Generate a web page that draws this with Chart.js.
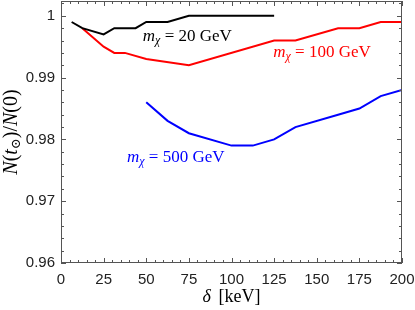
<!DOCTYPE html>
<html><head><meta charset="utf-8">
<script src="https://cdn.jsdelivr.net/npm/chart.js@4/dist/chart.umd.min.js"></script>
<style>html,body{margin:0;padding:0;background:#fff}#wrap{width:415px;height:310px}</style>
</head><body><div id="wrap"><canvas id="c" width="415" height="310"></canvas></div>
<script>
// delta [keV] and N(t_sun)/N(0) for each dark matter mass
const x20  = [6.25, 12.5, 25, 31.25, 43.75, 50, 62.5, 75, 125];
const y20  = [0.999, 0.998, 0.997, 0.998, 0.998, 0.999, 0.999, 1.000, 1.000];
const x100 = [12.5, 25, 31.25, 37.5, 50, 75, 125, 137.5, 162.5, 175, 187.5, 200];
const y100 = [0.998, 0.995, 0.994, 0.994, 0.993, 0.992, 0.996, 0.996, 0.998, 0.998, 0.999, 0.999];
const x500 = [50, 62.5, 75, 100, 112.5, 125, 137.5, 162.5, 175, 187.5, 200];
const y500 = [0.986, 0.983, 0.981, 0.979, 0.979, 0.980, 0.982, 0.984, 0.985, 0.987, 0.988];
const xTicks = [0, 25, 50, 75, 100, 125, 150, 175, 200];
const yTicks = [0.96, 0.97, 0.98, 0.99, 1];
const yTickLabels = ["0.96", "0.97", "0.98", "0.99", "1"];
const massLabels = ["20", "100", "500"];

const pts = (xs, ys) => xs.map((v, i) => ({x: v, y: ys[i]}));
const colors = ["#000000", "#ff0000", "#0000ff"];
// label anchors in data coordinates
const labelAnchors = [[48, 0.9959], [124.5, 0.99328], [38.7, 0.97641]];

const FRAME = "#555";
const serif = "'Liberation Serif', 'DejaVu Serif', serif";

function drawRich(ctx, segs, x, y, align) {
  let total = 0;
  segs.forEach(s => { ctx.font = s.f; s.w = ctx.measureText(s.t).width + (s.gap || 0); total += s.w; });
  let cx = align === 'center' ? x - total / 2 : x;
  ctx.textBaseline = 'alphabetic';
  ctx.textAlign = 'left';
  segs.forEach(s => { ctx.font = s.f; ctx.fillText(s.t, cx, y + (s.dy || 0)); cx += s.w; });
}

const deco = {
  id: 'deco',
  afterDatasetsDraw(chart) {
    const ctx = chart.ctx, a = chart.chartArea, xs = chart.scales.x, ys = chart.scales.y;
    ctx.save();
    // frame
    ctx.strokeStyle = FRAME; ctx.lineWidth = 1;
    ctx.strokeRect(a.left + 0.5, a.top + 0.5, a.right - a.left - 1, a.bottom - a.top - 1);
    // inward ticks
    ctx.beginPath();
    for (let v = 0; v <= 200.001; v += 5) {
      const px = Math.round(xs.getPixelForValue(v)) + 0.5;
      const L = (Math.abs(v % 25) < 1e-6) ? 5 : 3;
      ctx.moveTo(px, a.bottom); ctx.lineTo(px, a.bottom - L);
      ctx.moveTo(px, a.top); ctx.lineTo(px, a.top + L);
    }
    for (let k = 0; k <= 21; k++) {
      const v = 0.96 + k * 0.002;
      if (v > ys.max) break;
      const py = Math.round(ys.getPixelForValue(v)) + 0.5;
      const L = (k % 5 === 0) ? 5 : 3;
      ctx.moveTo(a.left, py); ctx.lineTo(a.left + L, py);
      ctx.moveTo(a.right, py); ctx.lineTo(a.right - L, py);
    }
    ctx.stroke();
    // series labels
    massLabels.forEach((m, i) => {
      ctx.fillStyle = colors[i];
      const px = xs.getPixelForValue(labelAnchors[i][0]);
      const py = ys.getPixelForValue(labelAnchors[i][1]);
      drawRich(ctx, [
        {t: 'm', f: 'italic 17px ' + serif},
        {t: 'χ', f: 'italic 12px ' + serif, dy: 3},
        {t: ' = ' + m + ' GeV', f: '17px ' + serif}
      ], px, py, 'left');
    });
    // x title
    ctx.fillStyle = '#000';
    drawRich(ctx, [
      {t: 'δ', f: 'italic 18px ' + serif, gap: 3},
      {t: ' [keV]', f: '18px ' + serif}
    ], (a.left + a.right) / 2, 302, 'center');
    // y title
    ctx.translate(17, (a.top + a.bottom) / 2);
    ctx.rotate(-Math.PI / 2);
    drawRich(ctx, [
      {t: 'N', f: 'italic 20px ' + serif},
      {t: '(', f: '20px ' + serif},
      {t: 't', f: 'italic 20px ' + serif},
      {t: '⊙', f: '13px ' + serif, dy: 3},
      {t: ')/', f: '20px ' + serif},
      {t: 'N', f: 'italic 20px ' + serif},
      {t: '(0)', f: '20px ' + serif}
    ], 0, 0, 'center');
    ctx.restore();
  }
};

new Chart(document.getElementById('c'), {
  type: 'line',
  data: {
    datasets: [
      {data: pts(x20, y20), borderColor: colors[0]},
      {data: pts(x100, y100), borderColor: colors[1]},
      {data: pts(x500, y500), borderColor: colors[2]}
    ].map(d => Object.assign(d, {borderWidth: 2, pointRadius: 0, tension: 0, fill: false}))
  },
  options: {
    responsive: false, animation: false, devicePixelRatio: 1,
    layout: {padding: {top: 1, right: 13, left: 0, bottom: 0}},
    plugins: {legend: {display: false}, tooltip: {enabled: false}},
    scales: {
      x: {
        type: 'linear', min: 0, max: 200,
        grid: {display: false, drawTicks: false}, border: {display: false},
        afterBuildTicks: s => { s.ticks = xTicks.map(v => ({value: v})); },
        afterFit: s => { s.height = 47; s.paddingLeft = 0; s.paddingRight = 0; },
        ticks: {padding: 8, color: '#222', font: {family: "'Liberation Sans', Arial, sans-serif", size: 15}, maxRotation: 0,
          callback: v => String(v)}
      },
      y: {
        type: 'linear', min: 0.96, max: 1.0024,
        grid: {display: false, drawTicks: false}, border: {display: false},
        afterBuildTicks: s => { s.ticks = yTicks.map(v => ({value: v})); },
        afterFit: s => { s.width = 61; s.paddingTop = 0; s.paddingBottom = 0; },
        ticks: {padding: 6, color: '#222', font: {family: "'Liberation Sans', Arial, sans-serif", size: 15},
          callback: (v, i) => yTickLabels[i]}
      }
    }
  },
  plugins: [deco]
});
</script>
</body></html>
